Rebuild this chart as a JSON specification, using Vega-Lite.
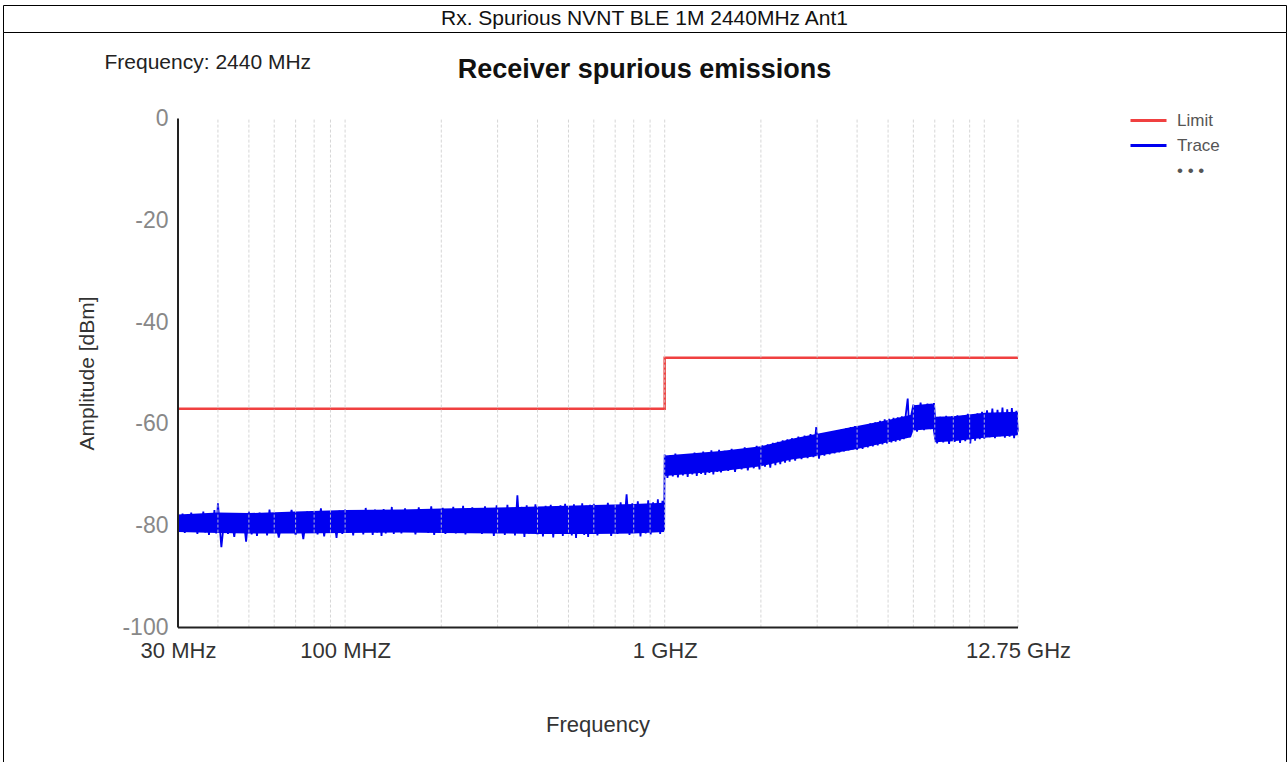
{
  "$schema": "https://vega.github.io/schema/vega-lite/v6.json",
  "padding": {"left": 2, "top": 4, "right": 0, "bottom": 0},
  "spacing": 0,
  "bounds": "flush",
  "config": {"view": {"stroke": "#000000", "strokeWidth": 1}, "font": "Liberation Sans"},
  "datasets": {
    "trace": [
      {"freq":30,"dBm":-78.2},{"freq":30.5,"dBm":-81.0},{"freq":31,"dBm":-77.6},{"freq":31.5,"dBm":-81.4},{"freq":32,"dBm":-78.0},{"freq":32.5,"dBm":-80.8},{"freq":33,"dBm":-77.4},{"freq":33.5,"dBm":-81.2},{"freq":34,"dBm":-78.4},{"freq":34.5,"dBm":-81.6},
      {"freq":35,"dBm":-77.8},{"freq":35.5,"dBm":-80.9},{"freq":36,"dBm":-77.2},{"freq":36.5,"dBm":-81.3},{"freq":37,"dBm":-78.1},{"freq":37.5,"dBm":-81.8},{"freq":38,"dBm":-77.6},{"freq":38.5,"dBm":-81.0},{"freq":39,"dBm":-76.9},{"freq":39.5,"dBm":-81.5},
      {"freq":40,"dBm":-75.6},{"freq":41,"dBm":-84.2},{"freq":42,"dBm":-77.8},{"freq":43,"dBm":-81.6},{"freq":44,"dBm":-78.3},{"freq":45,"dBm":-82.2},{"freq":46,"dBm":-77.5},{"freq":47,"dBm":-81.4},{"freq":48,"dBm":-78.0},{"freq":49,"dBm":-83.1},
      {"freq":50,"dBm":-77.2},{"freq":51,"dBm":-81.7},{"freq":52,"dBm":-77.9},{"freq":53,"dBm":-82.0},{"freq":54,"dBm":-77.4},{"freq":55,"dBm":-81.2},{"freq":56,"dBm":-78.2},{"freq":57,"dBm":-81.9},{"freq":58,"dBm":-76.8},{"freq":59,"dBm":-81.3},
      {"freq":60,"dBm":-77.6},{"freq":62,"dBm":-82.3},{"freq":64,"dBm":-78.1},{"freq":66,"dBm":-81.0},{"freq":68,"dBm":-76.9},{"freq":70,"dBm":-81.8},{"freq":72,"dBm":-77.7},{"freq":74,"dBm":-82.6},{"freq":76,"dBm":-77.2},{"freq":78,"dBm":-81.1},
      {"freq":80,"dBm":-77.9},{"freq":82,"dBm":-81.7},{"freq":84,"dBm":-76.6},{"freq":86,"dBm":-82.1},{"freq":88,"dBm":-77.4},{"freq":90,"dBm":-81.3},{"freq":92,"dBm":-77.8},{"freq":94,"dBm":-82.4},{"freq":96,"dBm":-77.0},{"freq":98,"dBm":-81.6},
      {"freq":100,"dBm":-76.8},{"freq":102,"dBm":-81.4},{"freq":104,"dBm":-77.5},{"freq":106,"dBm":-81.9},{"freq":108,"dBm":-76.9},{"freq":110,"dBm":-81.2},{"freq":112,"dBm":-77.3},{"freq":114,"dBm":-81.7},{"freq":116,"dBm":-76.5},{"freq":118,"dBm":-81.0},
      {"freq":120,"dBm":-77.6},{"freq":122,"dBm":-81.8},{"freq":124,"dBm":-76.8},{"freq":126,"dBm":-81.3},{"freq":128,"dBm":-77.2},{"freq":130,"dBm":-82.0},{"freq":132,"dBm":-76.7},{"freq":134,"dBm":-81.5},{"freq":136,"dBm":-77.4},{"freq":138,"dBm":-80.9},
      {"freq":140,"dBm":-76.3},{"freq":142,"dBm":-81.6},{"freq":144,"dBm":-77.1},{"freq":146,"dBm":-81.2},{"freq":148,"dBm":-76.9},
      {"freq":150,"dBm":-81.5},{"freq":154,"dBm":-76.6},{"freq":158,"dBm":-81.1},{"freq":162,"dBm":-77.2},{"freq":166,"dBm":-81.7},{"freq":170,"dBm":-76.4},{"freq":174,"dBm":-81.0},{"freq":178,"dBm":-77.0},{"freq":182,"dBm":-81.4},{"freq":186,"dBm":-76.2},
      {"freq":190,"dBm":-81.8},{"freq":194,"dBm":-76.9},{"freq":198,"dBm":-81.2},{"freq":202,"dBm":-76.5},{"freq":206,"dBm":-81.6},{"freq":210,"dBm":-77.1},{"freq":214,"dBm":-80.9},{"freq":218,"dBm":-76.3},{"freq":222,"dBm":-81.5},{"freq":226,"dBm":-76.8},
      {"freq":230,"dBm":-81.1},{"freq":234,"dBm":-76.1},{"freq":238,"dBm":-81.7},{"freq":242,"dBm":-77.0},{"freq":246,"dBm":-81.3},
      {"freq":250,"dBm":-76.4},{"freq":256,"dBm":-81.0},{"freq":262,"dBm":-76.8},{"freq":268,"dBm":-81.6},{"freq":274,"dBm":-76.2},{"freq":280,"dBm":-81.2},{"freq":286,"dBm":-76.7},{"freq":292,"dBm":-82.0},{"freq":298,"dBm":-76.0},{"freq":304,"dBm":-81.4},
      {"freq":310,"dBm":-76.6},{"freq":316,"dBm":-81.8},{"freq":322,"dBm":-75.9},{"freq":328,"dBm":-81.1},{"freq":334,"dBm":-76.5},{"freq":340,"dBm":-81.9},{"freq":346,"dBm":-74.0},{"freq":352,"dBm":-81.3},{"freq":358,"dBm":-76.3},{"freq":364,"dBm":-82.2},
      {"freq":370,"dBm":-76.0},{"freq":376,"dBm":-81.5},{"freq":382,"dBm":-76.6},{"freq":388,"dBm":-81.0},{"freq":394,"dBm":-75.8},
      {"freq":400,"dBm":-81.7},{"freq":408,"dBm":-76.4},{"freq":416,"dBm":-82.1},{"freq":424,"dBm":-76.1},{"freq":432,"dBm":-81.4},{"freq":440,"dBm":-75.9},{"freq":448,"dBm":-82.3},{"freq":456,"dBm":-76.5},{"freq":464,"dBm":-81.6},{"freq":472,"dBm":-76.0},
      {"freq":480,"dBm":-82.0},{"freq":488,"dBm":-75.7},{"freq":496,"dBm":-81.3},{"freq":504,"dBm":-76.3},{"freq":512,"dBm":-81.9},{"freq":520,"dBm":-75.8},{"freq":528,"dBm":-82.4},{"freq":536,"dBm":-76.2},{"freq":544,"dBm":-81.5},{"freq":552,"dBm":-75.6},
      {"freq":560,"dBm":-81.8},{"freq":568,"dBm":-76.1},{"freq":576,"dBm":-82.2},{"freq":584,"dBm":-75.9},{"freq":592,"dBm":-81.4},
      {"freq":600,"dBm":-75.7},{"freq":616,"dBm":-81.9},{"freq":632,"dBm":-76.2},{"freq":648,"dBm":-81.3},{"freq":664,"dBm":-75.5},{"freq":680,"dBm":-82.0},{"freq":696,"dBm":-76.0},{"freq":712,"dBm":-81.6},{"freq":728,"dBm":-75.4},{"freq":744,"dBm":-81.2},
      {"freq":760,"dBm":-73.8},{"freq":776,"dBm":-81.8},{"freq":792,"dBm":-75.6},{"freq":808,"dBm":-81.4},{"freq":824,"dBm":-75.2},{"freq":840,"dBm":-82.1},{"freq":856,"dBm":-75.8},{"freq":872,"dBm":-81.5},{"freq":888,"dBm":-75.0},{"freq":904,"dBm":-81.7},
      {"freq":920,"dBm":-75.4},{"freq":936,"dBm":-81.2},{"freq":952,"dBm":-74.8},{"freq":968,"dBm":-81.6},{"freq":984,"dBm":-75.1},{"freq":996,"dBm":-81.0},
      {"freq":1000,"dBm":-66.0},{"freq":1020,"dBm":-70.6},{"freq":1040,"dBm":-66.2},{"freq":1060,"dBm":-70.3},{"freq":1080,"dBm":-65.8},{"freq":1100,"dBm":-70.5},{"freq":1120,"dBm":-66.4},{"freq":1140,"dBm":-70.1},{"freq":1160,"dBm":-65.9},{"freq":1180,"dBm":-70.4},
      {"freq":1200,"dBm":-66.1},{"freq":1220,"dBm":-69.9},{"freq":1240,"dBm":-65.6},{"freq":1260,"dBm":-70.2},{"freq":1280,"dBm":-65.9},{"freq":1300,"dBm":-69.8},{"freq":1320,"dBm":-65.4},{"freq":1340,"dBm":-70.0},{"freq":1360,"dBm":-65.7},{"freq":1380,"dBm":-69.6},
      {"freq":1400,"dBm":-65.2},{"freq":1420,"dBm":-69.9},{"freq":1440,"dBm":-65.5},{"freq":1460,"dBm":-69.4},{"freq":1480,"dBm":-65.1},
      {"freq":1500,"dBm":-69.5},{"freq":1540,"dBm":-65.3},{"freq":1580,"dBm":-69.2},{"freq":1620,"dBm":-64.9},{"freq":1660,"dBm":-69.4},{"freq":1700,"dBm":-65.0},{"freq":1740,"dBm":-68.9},{"freq":1780,"dBm":-64.6},{"freq":1820,"dBm":-69.1},{"freq":1860,"dBm":-64.8},
      {"freq":1900,"dBm":-68.7},{"freq":1940,"dBm":-64.3},{"freq":1980,"dBm":-68.9},{"freq":2020,"dBm":-64.2},{"freq":2060,"dBm":-68.4},{"freq":2100,"dBm":-64.0},{"freq":2140,"dBm":-68.6},{"freq":2180,"dBm":-63.7},{"freq":2220,"dBm":-68.1},{"freq":2260,"dBm":-63.5},
      {"freq":2300,"dBm":-67.9},{"freq":2340,"dBm":-63.2},{"freq":2380,"dBm":-67.6},{"freq":2420,"dBm":-63.0},{"freq":2460,"dBm":-67.4},
      {"freq":2500,"dBm":-62.8},{"freq":2560,"dBm":-67.2},{"freq":2620,"dBm":-62.5},{"freq":2680,"dBm":-66.9},{"freq":2740,"dBm":-62.3},{"freq":2800,"dBm":-66.7},{"freq":2860,"dBm":-62.0},{"freq":2920,"dBm":-66.5},{"freq":2980,"dBm":-60.6},{"freq":3040,"dBm":-66.8},
      {"freq":3100,"dBm":-61.9},{"freq":3160,"dBm":-66.2},{"freq":3220,"dBm":-61.6},{"freq":3280,"dBm":-66.0},{"freq":3340,"dBm":-61.5},{"freq":3400,"dBm":-65.8},{"freq":3460,"dBm":-61.2},{"freq":3520,"dBm":-65.6},{"freq":3580,"dBm":-61.0},{"freq":3640,"dBm":-65.4},
      {"freq":3700,"dBm":-60.8},{"freq":3760,"dBm":-65.2},{"freq":3820,"dBm":-60.6},{"freq":3880,"dBm":-65.0},{"freq":3940,"dBm":-60.4},
      {"freq":4000,"dBm":-65.1},{"freq":4080,"dBm":-60.5},{"freq":4160,"dBm":-64.9},{"freq":4240,"dBm":-60.2},{"freq":4320,"dBm":-64.6},{"freq":4400,"dBm":-59.9},{"freq":4480,"dBm":-64.4},{"freq":4560,"dBm":-59.7},{"freq":4640,"dBm":-64.2},{"freq":4720,"dBm":-59.4},
      {"freq":4800,"dBm":-64.0},{"freq":4880,"dBm":-59.1},{"freq":4960,"dBm":-63.8},{"freq":5040,"dBm":-59.0},{"freq":5120,"dBm":-63.6},{"freq":5200,"dBm":-58.8},{"freq":5280,"dBm":-63.5},{"freq":5360,"dBm":-58.7},{"freq":5440,"dBm":-63.3},{"freq":5520,"dBm":-58.5},
      {"freq":5600,"dBm":-63.0},{"freq":5680,"dBm":-58.2},{"freq":5760,"dBm":-55.0},{"freq":5840,"dBm":-62.6},{"freq":5920,"dBm":-58.0},
      {"freq":6000,"dBm":-56.2},{"freq":6160,"dBm":-61.5},{"freq":6320,"dBm":-55.8},{"freq":6480,"dBm":-61.2},{"freq":6640,"dBm":-56.0},{"freq":6800,"dBm":-61.0},{"freq":6960,"dBm":-55.9},{"freq":7120,"dBm":-63.8},{"freq":7280,"dBm":-58.6},{"freq":7440,"dBm":-63.6},
      {"freq":7600,"dBm":-58.4},{"freq":7760,"dBm":-63.9},{"freq":7920,"dBm":-58.5},{"freq":8080,"dBm":-63.5},{"freq":8240,"dBm":-58.3},{"freq":8400,"dBm":-63.7},{"freq":8560,"dBm":-58.4},{"freq":8720,"dBm":-63.4},{"freq":8880,"dBm":-58.0},{"freq":9040,"dBm":-63.8},
      {"freq":9200,"dBm":-58.2},{"freq":9360,"dBm":-63.3},{"freq":9520,"dBm":-57.9},{"freq":9680,"dBm":-63.0},{"freq":9840,"dBm":-57.6},
      {"freq":10000,"dBm":-62.9},{"freq":10200,"dBm":-57.3},{"freq":10400,"dBm":-62.6},{"freq":10600,"dBm":-57.0},{"freq":10800,"dBm":-62.8},{"freq":11000,"dBm":-57.2},{"freq":11200,"dBm":-62.4},{"freq":11400,"dBm":-56.8},{"freq":11600,"dBm":-62.7},{"freq":11800,"dBm":-57.1},
      {"freq":12000,"dBm":-62.5},{"freq":12200,"dBm":-56.9},{"freq":12400,"dBm":-62.8},{"freq":12600,"dBm":-57.4},{"freq":12750,"dBm":-61.5}
    ],
    "band": [
      {"freq":30,"lo":-81.2,"hi":-77.8},{"freq":40,"lo":-81.4,"hi":-77.4},{"freq":50,"lo":-81.5,"hi":-77.5},{"freq":70,"lo":-81.5,"hi":-77.2},
      {"freq":100,"lo":-81.4,"hi":-76.9},{"freq":150,"lo":-81.3,"hi":-76.8},{"freq":200,"lo":-81.4,"hi":-76.6},{"freq":300,"lo":-81.5,"hi":-76.4},
      {"freq":400,"lo":-81.6,"hi":-76.2},{"freq":600,"lo":-81.6,"hi":-75.9},{"freq":800,"lo":-81.5,"hi":-75.7},{"freq":996,"lo":-81.2,"hi":-75.5},
      {"freq":1000,"lo":-70.2,"hi":-66.2},{"freq":1500,"lo":-69.3,"hi":-65.3},{"freq":2000,"lo":-68.3,"hi":-64.4},{"freq":2500,"lo":-67.0,"hi":-62.9},
      {"freq":3000,"lo":-66.3,"hi":-61.9},{"freq":4000,"lo":-64.9,"hi":-60.4},{"freq":5000,"lo":-63.6,"hi":-59.2},{"freq":5900,"lo":-62.6,"hi":-58.2},
      {"freq":6000,"lo":-61.3,"hi":-56.3},{"freq":6900,"lo":-61.0,"hi":-56.0},{"freq":7000,"lo":-63.6,"hi":-58.6},{"freq":8000,"lo":-63.4,"hi":-58.5},
      {"freq":10000,"lo":-62.7,"hi":-57.8},{"freq":12750,"lo":-62.2,"hi":-57.6}
    ],
    "limit": [
      {"seq":1,"freq":30,"dBm":-57},{"seq":2,"freq":1000,"dBm":-57},{"seq":3,"freq":1000,"dBm":-47},{"seq":4,"freq":12750,"dBm":-47}
    ],
    "grid": [
      {"freq":40},{"freq":50},{"freq":60},{"freq":70},{"freq":80},{"freq":90},{"freq":100},
      {"freq":200},{"freq":300},{"freq":400},{"freq":500},{"freq":600},{"freq":700},{"freq":800},{"freq":900},{"freq":1000},
      {"freq":2000},{"freq":3000},{"freq":4000},{"freq":5000},{"freq":6000},{"freq":7000},{"freq":8000},{"freq":9000},{"freq":10000},{"freq":12750}
    ]
  },
  "vconcat": [
    {
      "width": 1283,
      "height": 27,
      "view": {"stroke": "#000000", "strokeWidth": 1},
      "data": {"values": [{"caption": "Rx. Spurious NVNT BLE 1M 2440MHz Ant1"}]},
      "mark": {"type": "text", "fontSize": 21, "color": "#111111", "font": "Liberation Sans"},
      "encoding": {
        "x": {"datum": 0.5, "type": "quantitative", "scale": {"domain": [0, 1], "nice": false}, "axis": null},
        "y": {"datum": 0.5, "type": "quantitative", "scale": {"domain": [0, 1], "nice": false}, "axis": null},
        "text": {"field": "caption", "type": "nominal"}
      }
    },
    {
      "width": 1283,
      "height": 731,
      "title": {"text": "Receiver spurious emissions", "fontSize": 27, "fontWeight": "bold", "anchor": "middle", "offset": -73, "baseline": "alphabetic", "color": "#111111", "font": "Liberation Sans"},
      "resolve": {"axis": {"x": "independent"}},
      "layer": [
        {
          "data": {"name": "band"},
          "mark": {"type": "area", "color": "#0000f0", "opacity": 1},
          "encoding": {
            "x": {"field": "freq", "type": "quantitative", "scale": {"type": "log", "domain": [8.502, 87930], "nice": false}, "axis": null},
            "y": {"field": "lo", "type": "quantitative",
              "scale": {"domain": [-126.6, 17], "nice": false, "zero": false},
              "axis": {"orient": "left", "offset": -175, "values": [0, -20, -40, -60, -80, -100],
                "labelExpr": "'' + datum.value", "domain": false, "ticks": false, "grid": false,
                "labelFontSize": 23, "labelColor": "#888888", "labelPadding": 10,
                "title": "Amplitude [dBm]", "titleFontSize": 21, "titleFontWeight": "normal", "titleColor": "#333333",
                "titleX": -85, "titleY": 341, "titleAngle": -90, "titleAlign": "center", "titleBaseline": "alphabetic"}},
            "y2": {"field": "hi"}
          }
        },
        {
          "data": {"name": "trace"},
          "mark": {"type": "line", "strokeWidth": 1.8, "interpolate": "linear"},
          "encoding": {
            "x": {"field": "freq", "type": "quantitative",
              "scale": {"type": "log", "domain": [8.502, 87930], "nice": false},
              "axis": {"orient": "bottom", "offset": -135.5, "values": [30, 100, 1000, 12750],
                "labelExpr": "datum.value == 30 ? '30 MHz' : datum.value == 100 ? '100 MHZ' : datum.value == 1000 ? '1 GHZ' : '12.75 GHz'",
                "domain": false, "ticks": false, "grid": false, "labelFlush": false, "labelOverlap": false, "labelBound": false,
                "labelFontSize": 22, "labelColor": "#333333", "labelPadding": 13,
                "title": "Frequency", "titleFontSize": 22, "titleFontWeight": "normal", "titleColor": "#333333",
                "titleX": 594.5, "titleY": 104, "titleAlign": "center", "titleBaseline": "alphabetic"}},
            "y": {"field": "dBm", "type": "quantitative", "scale": {"domain": [-126.6, 17], "nice": false, "zero": false}},
            "color": {"datum": "Trace", "type": "nominal",
              "scale": {"domain": ["Limit", "Trace", "• • •"], "range": ["#f04040", "#0000f0", "rgba(0,0,0,0)"]},
              "legend": {"orient": "none", "legendX": 1135, "legendY": 105, "title": null, "padding": 0,
                "symbolType": "M-2,0H2", "symbolSize": 324, "symbolStrokeWidth": 3,
                "labelFontSize": 17, "labelColor": "#555555", "labelOffset": 18, "rowPadding": 6, "labelFont": "Liberation Sans"}}
          }
        },
        {
          "data": {"name": "limit"},
          "mark": {"type": "line", "strokeWidth": 2.5},
          "encoding": {
            "x": {"field": "freq", "type": "quantitative", "scale": {"type": "log", "domain": [8.502, 87930], "nice": false}, "axis": null},
            "y": {"field": "dBm", "type": "quantitative", "scale": {"domain": [-126.6, 17], "nice": false, "zero": false}},
            "order": {"field": "seq", "type": "quantitative"},
            "color": {"datum": "Limit", "type": "nominal"}
          }
        },
        {
          "data": {"name": "grid"},
          "mark": {"type": "rule", "stroke": "#cfcfcf", "strokeWidth": 1, "strokeDash": [3, 2], "opacity": 0.85},
          "encoding": {
            "x": {"field": "freq", "type": "quantitative", "scale": {"type": "log", "domain": [8.502, 87930], "nice": false},
              "axis": {"orient": "top", "domain": false, "ticks": false, "labels": false, "grid": false,
                "title": "Frequency: 2440 MHz", "titleFontSize": 21, "titleFontWeight": "normal", "titleColor": "#222222",
                "titleX": 101, "titleY": 36, "titleAlign": "left", "titleBaseline": "alphabetic", "titleAngle": 0}},
            "y": {"datum": -100, "type": "quantitative", "scale": {"domain": [-126.6, 17], "nice": false, "zero": false}},
            "y2": {"datum": 0}
          }
        },
        {
          "data": {"values": [{}]},
          "mark": {"type": "rule", "stroke": "#222222", "strokeWidth": 2},
          "encoding": {
            "x": {"datum": 30, "type": "quantitative", "scale": {"type": "log", "domain": [8.502, 87930], "nice": false}, "axis": null},
            "y": {"datum": -100, "type": "quantitative", "scale": {"domain": [-126.6, 17], "nice": false, "zero": false}},
            "y2": {"datum": 0}
          }
        },
        {
          "data": {"values": [{}]},
          "mark": {"type": "rule", "stroke": "#222222", "strokeWidth": 2},
          "encoding": {
            "x": {"datum": 30, "type": "quantitative", "scale": {"type": "log", "domain": [8.502, 87930], "nice": false}, "axis": null},
            "x2": {"datum": 12750},
            "y": {"datum": -100, "type": "quantitative", "scale": {"domain": [-126.6, 17], "nice": false, "zero": false}}
          }
        }
      ]
    }
  ]
}
